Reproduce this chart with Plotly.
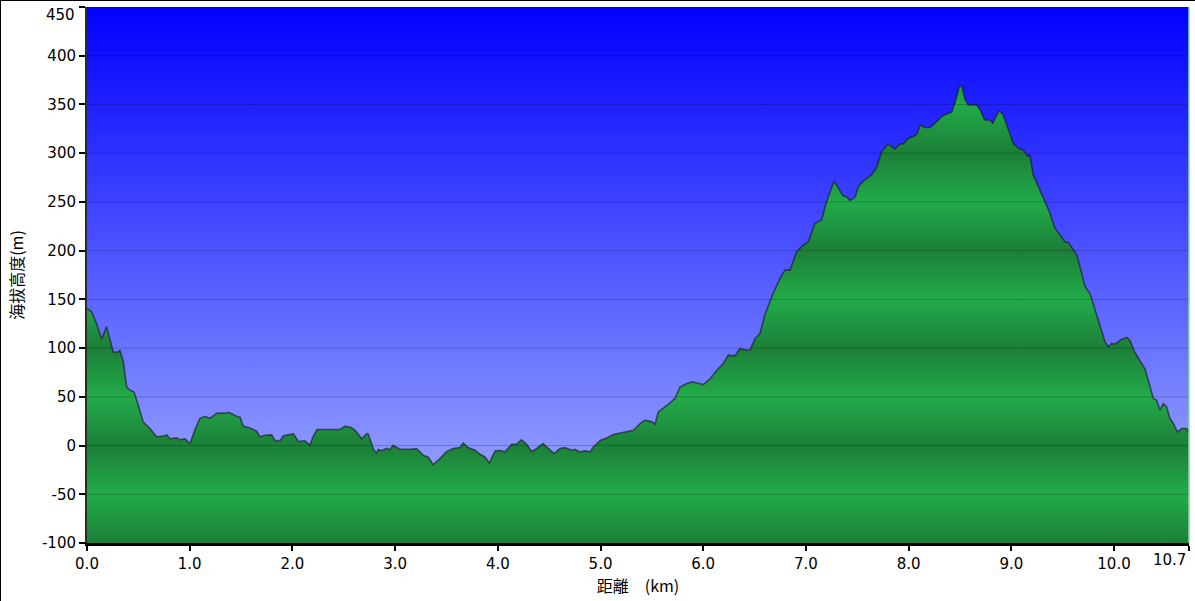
import plotly.graph_objects as go

# ---- data ----
distance_km = [
    0.0, 0.046, 0.094, 0.143, 0.19, 0.256, 0.305, 0.32, 0.354, 0.386, 0.419, 0.458, 0.5, 0.548,
    0.613, 0.679, 0.76, 0.775, 0.808, 0.873, 0.905, 0.954, 1.003, 1.05, 1.1, 1.149, 1.198, 1.263,
    1.36, 1.38, 1.457, 1.49, 1.522, 1.587, 1.652, 1.685, 1.733, 1.798, 1.831, 1.88, 1.912, 2.01,
    2.06, 2.12, 2.17, 2.2, 2.24, 2.3, 2.33, 2.4, 2.46, 2.51, 2.56, 2.61, 2.675, 2.724, 2.74, 2.79,
    2.82, 2.836, 2.87, 2.92, 2.95, 2.98, 3.03, 3.048, 3.145, 3.21, 3.275, 3.323, 3.37, 3.437,
    3.502, 3.567, 3.632, 3.663, 3.71, 3.78, 3.827, 3.875, 3.917, 3.973, 4.02, 4.07, 4.135, 4.18,
    4.23, 4.28, 4.33, 4.38, 4.44, 4.49, 4.547, 4.605, 4.654, 4.72, 4.75, 4.8, 4.85, 4.898, 4.93,
    5.0, 5.06, 5.125, 5.19, 5.255, 5.32, 5.385, 5.433, 5.5, 5.53, 5.563, 5.61, 5.677, 5.725,
    5.774, 5.84, 5.9, 5.95, 6.0, 6.066, 6.13, 6.196, 6.244, 6.31, 6.358, 6.407, 6.456, 6.505,
    6.553, 6.6, 6.68, 6.748, 6.797, 6.845, 6.91, 6.975, 7.023, 7.088, 7.153, 7.2, 7.274, 7.316,
    7.364, 7.4, 7.43, 7.48, 7.51, 7.56, 7.64, 7.69, 7.738, 7.8, 7.867, 7.916, 7.95, 7.997, 8.046,
    8.08, 8.115, 8.16, 8.21, 8.257, 8.322, 8.354, 8.42, 8.46, 8.494, 8.52, 8.55, 8.58, 8.63,
    8.66, 8.695, 8.74, 8.79, 8.82, 8.85, 8.883, 8.92, 8.97, 9.02, 9.068, 9.117, 9.156, 9.18,
    9.214, 9.263, 9.328, 9.377, 9.425, 9.474, 9.523, 9.555, 9.604, 9.637, 9.669, 9.718, 9.766,
    9.815, 9.864, 9.912, 9.945, 9.977, 10.01, 10.075, 10.124, 10.157, 10.2, 10.253, 10.3,
    10.334, 10.383, 10.415, 10.448, 10.48, 10.512, 10.545, 10.578, 10.617, 10.66, 10.708, 10.73,
]
elevation_m = [
    141, 137, 125, 109, 122, 96, 96, 98, 86, 60, 57, 55, 41, 24,
    17.5, 9, 10, 11, 7, 8, 6, 7, 2, 16, 28, 30, 28, 33,
    33.5, 34, 30, 29, 20, 18, 14.7, 9, 10.6, 11, 5, 5, 10, 12,
    4, 5, 0.5, 9, 16.4, 16.4, 15.8, 15.8, 16.4, 19.8, 19, 15.8, 7, 12.3, 11.8, -4,
    -7.6, -4, -5, -3, -4, 0.3, -3, -3.8, -3.8, -3, -10, -12, -19.5, -13.4,
    -6, -3, -2, 2.7, -2, -4.8, -9, -11.7, -17.8, -5.5, -4.8, -6.5, 1.3, 1.3,
    6, 1.3, -6, -3, 2, -3, -8.2, -3, -2, -4.8, -3.8, -6.5, -5.5, -6.5, -1.4,
    5.4, 7.8, 11.3, 13, 13.9, 15.7, 22.6, 26, 24.3, 22, 34.5, 38, 43.8, 48.3,
    60, 63.7, 65.4, 64, 62.5, 68.3, 77, 84.2, 92.8, 92, 99.6, 98, 98, 110,
    115, 134, 156, 171.6, 180, 180, 199, 205.8, 209, 228, 231.5, 250, 271.5, 264,
    256, 255, 251.3, 255, 265.7, 271.5, 277.7, 286, 301.7, 309.6, 304.4, 309.6, 309.6, 315.4, 317,
    319.5, 329, 326.3, 326.3, 330.8, 337.6, 339.4, 342, 354.8, 368.5, 368.5, 354.8, 349.6, 350,
    349.6, 345, 334.2, 334.2, 330.8, 337.6, 343.5, 339.4, 324, 310, 305, 303.4, 297, 298,
    277.7, 265.7, 250.3, 238.4, 223, 216, 209, 208.5, 200.7, 195.5, 183.5, 163, 156,
    139, 121.9, 106.4, 101.3, 104.8, 104, 109, 111, 107.5, 96, 87.6, 79,
    67, 48.3, 46.5, 36.3, 43, 39.7, 27.7, 22.6, 14, 17.5, 17.5, 12.3,
]

x_tick_values = [0, 1, 2, 3, 4, 5, 6, 7, 8, 9, 10, 10.73]
x_tick_labels = ["0.0", "1.0", "2.0", "3.0", "4.0", "5.0", "6.0", "7.0", "8.0", "9.0", "10.0", ""]
last_x_label = "10.7"
y_tick_values = [-100, -50, 0, 50, 100, 150, 200, 250, 300, 350, 400, 450]
y_tick_labels = ["-100", "-50", "0", "50", "100", "150", "200", "250", "300", "350", "400", ""]
top_y_label = "450"

x_title = "距離　(km)"
y_title = "海拔高度(m)"

# ---- styling ----
x_min, x_max = 0, 10.73
y_min, y_max = -100, 450
tick_font = dict(family="DejaVu Sans", size=15, color="black")
cjk_font = dict(family="Noto Sans CJK JP", size=16, color="black")

DARK_GREEN = "#1c7f38"
LIGHT_GREEN = "#22ab4a"

# banded green colourscale: dark at multiples of 100, light at the 50s in between
n_bands = (y_max - y_min) // 50
green_scale = []
for i in range(n_bands + 1):
    v = y_min + 50 * i
    green_scale.append([i / n_bands, DARK_GREEN if v % 100 == 0 else LIGHT_GREEN])

fig = go.Figure()

# sky background (vertical gradient)
fig.add_trace(go.Scatter(
    x=[x_min, x_max, x_max, x_min, x_min],
    y=[y_min, y_min, y_max, y_max, y_min],
    mode="lines", line=dict(width=0), fill="toself",
    fillgradient=dict(type="vertical", start=y_min, stop=y_max,
                      colorscale=[[0, "rgb(168,182,255)"], [1, "rgb(0,0,255)"]]),
    hoverinfo="skip", showlegend=False,
))

# baseline for the terrain fill
fig.add_trace(go.Scatter(
    x=[distance_km[0], distance_km[-1]], y=[y_min, y_min],
    mode="lines", line=dict(width=0), hoverinfo="skip", showlegend=False,
))

# terrain
fig.add_trace(go.Scatter(
    x=distance_km, y=elevation_m, mode="lines",
    line=dict(color="rgba(25,25,35,0.62)", width=1.6),
    fill="tonexty",
    fillgradient=dict(type="vertical", start=y_min, stop=y_max, colorscale=green_scale),
    showlegend=False,
))

# gridlines drawn above the fill
for v in y_tick_values[1:-1]:
    fig.add_shape(type="line", xref="paper", yref="y", x0=0, x1=1, y0=v, y1=v,
                  line=dict(color="rgba(0,0,0,0.2)", width=1), layer="above")

# light green right edge of the plot
fig.add_shape(type="line", xref="paper", yref="paper", x0=1, x1=1, y0=0, y1=1,
              line=dict(color="#86d9a6", width=1.5), layer="above")

W, H = 1195, 601
ml, mr, mt, mb = 87, 6, 7, 58
pw, ph = W - ml - mr, H - mt - mb
# figure border (left and top)
fig.add_shape(type="line", xref="paper", yref="paper",
              x0=(0.5 - ml) / pw, x1=(0.5 - ml) / pw, y0=-(mb) / ph, y1=1 + mt / ph,
              line=dict(color="black", width=1), layer="above")
fig.add_shape(type="line", xref="paper", yref="paper",
              x0=(0.5 - ml) / pw, x1=1 + mr / pw, y0=1 + (mt - 0.5) / ph, y1=1 + (mt - 0.5) / ph,
              line=dict(color="black", width=1), layer="above")

# end labels nudged inside the picture, as in the reference
fig.add_annotation(x=x_max, y=0, xref="x", yref="paper", text=last_x_label,
                   showarrow=False, xanchor="right", yanchor="top", xshift=-1, yshift=-6,
                   font=tick_font)
fig.add_annotation(x=0, y=y_max, xref="paper", yref="y", text=top_y_label,
                   showarrow=False, xanchor="right", yanchor="top", xshift=-10, yshift=3,
                   font=tick_font)

fig.update_layout(
    width=W, height=H,
    margin=dict(l=ml, r=mr, t=mt, b=mb, pad=0, autoexpand=False),
    paper_bgcolor="white", plot_bgcolor="white",
    showlegend=False,
    xaxis=dict(range=[x_min, x_max], tickmode="array", tickvals=x_tick_values,
               ticktext=x_tick_labels, ticks="outside", ticklen=5, tickwidth=2,
               tickcolor="black", showline=True, linecolor="black", linewidth=2.5,
               showgrid=False, zeroline=False, tickfont=tick_font, automargin=False,
               title=dict(text=x_title, font=cjk_font, standoff=6)),
    yaxis=dict(range=[y_min, y_max], tickmode="array", tickvals=y_tick_values,
               ticktext=y_tick_labels, ticks="outside", ticklen=6, tickwidth=2,
               tickcolor="black", showline=True, linecolor="#2a2a2a", linewidth=2,
               showgrid=False, zeroline=False, tickfont=tick_font, automargin=False,
               title=dict(text=y_title, font=cjk_font, standoff=14)),
)

fig.write_html(
    "out.html",
    config={"displayModeBar": False},
    post_script="document.body.style.margin='0';document.body.style.overflow='hidden';",
)
